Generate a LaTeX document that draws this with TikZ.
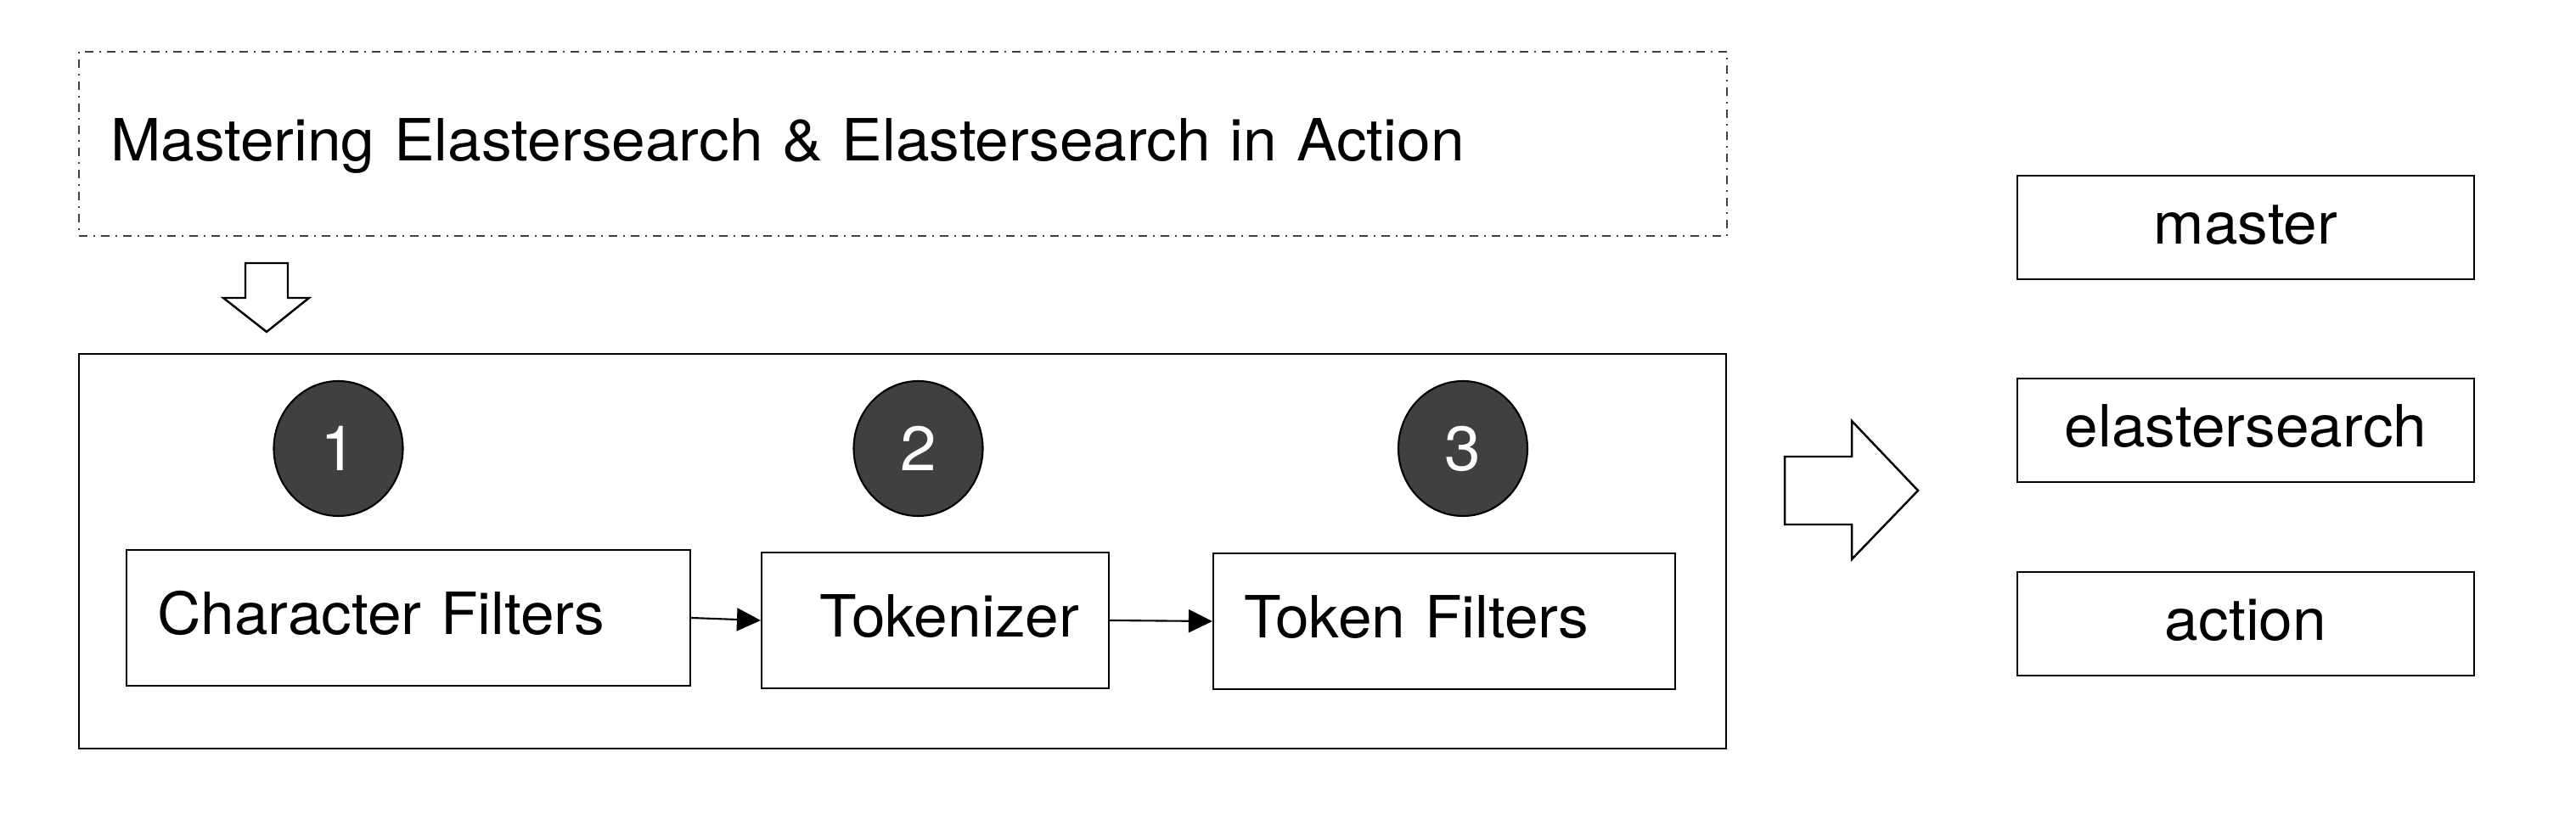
\documentclass[tikz,border=0pt]{standalone}
\usepackage{fontspec}
\setmainfont{TeX Gyre Heros}[FakeStretch=1.04]
\usetikzlibrary{shapes.geometric,arrows.meta}
\definecolor{nummerfill}{HTML}{404040}

\begin{document}
\begin{tikzpicture}[
  font=\fontsize{19.5}{23}\selectfont,
  kasten/.style={draw, line width=0.6pt, text height=0.4cm, text depth=0pt},
  stufe/.style={kasten, minimum height=1.6cm, inner xsep=0.36cm},
  wort/.style={kasten, minimum width=5.38cm, minimum height=1.22cm},
  nummer/.style={ellipse, draw, line width=0.6pt, fill=nummerfill, text=white,
    minimum width=1.52cm, minimum height=1.59cm, font=\fontsize{21}{25}\selectfont},
  fluss/.style={-{Triangle[length=0.28cm,width=0.27cm]}, line width=0.6pt},
  block/.style={draw, line width=0.7pt, line join=miter, fill=white}
 ]
  \useasboundingbox (0,0) rectangle (30.34,9.64);
  % Eingabetext
  \node[kasten, draw=black!75, line width=0.5pt,
    dash pattern=on 0.1cm off 0.07cm on 0.02cm off 0.07cm,
    minimum height=2.17cm, inner xsep=0.37cm, text width=18.67cm, align=left]
    (eingabe) at (10.635,7.945) {Mastering Elastersearch \& Elastersearch in Action};
  % Pfeil nach unten
  \draw[block] (2.89,6.54) -- (3.39,6.54) -- (3.39,6.13) -- (3.64,6.13)
    -- (3.14,5.73) -- (2.63,6.13) -- (2.89,6.13) -- cycle;
  % Analyzer
  \node[kasten, minimum width=19.40cm, minimum height=4.65cm] (analyzer) at (10.63,3.145) {};
  \foreach \x/\n in {3.985/1, 10.815/2, 17.23/3}
   \node[nummer] (n\n) at (\x,4.355) {\n};
  \node[stufe, text width=5.92cm, align=left] (cf) at (4.81,2.36) {Character Filters};
  \node[stufe, inner xsep=0.35cm, text width=3.39cm, align=right] (tok) at (11.015,2.33) {Tokenizer};
  \node[stufe, text width=4.72cm, align=left] (tf) at (17.01,2.32) {Token Filters};
  \draw[fluss] (cf.east) -- (tok.west);
  \draw[fluss] (tok.east) -- (tf.west);
  % Pfeil nach rechts
  \draw[block] (21.02,4.26) -- (21.81,4.26) -- (21.81,4.68) -- (22.59,3.86)
    -- (21.81,3.05) -- (21.81,3.46) -- (21.02,3.46) -- cycle;
  % Terme
  \foreach \y/\w in {6.96/master, 4.57/elastersearch, 2.29/action}
   \node[wort] (\w) at (26.45,\y) {\w};
 \end{tikzpicture}
\end{document}
